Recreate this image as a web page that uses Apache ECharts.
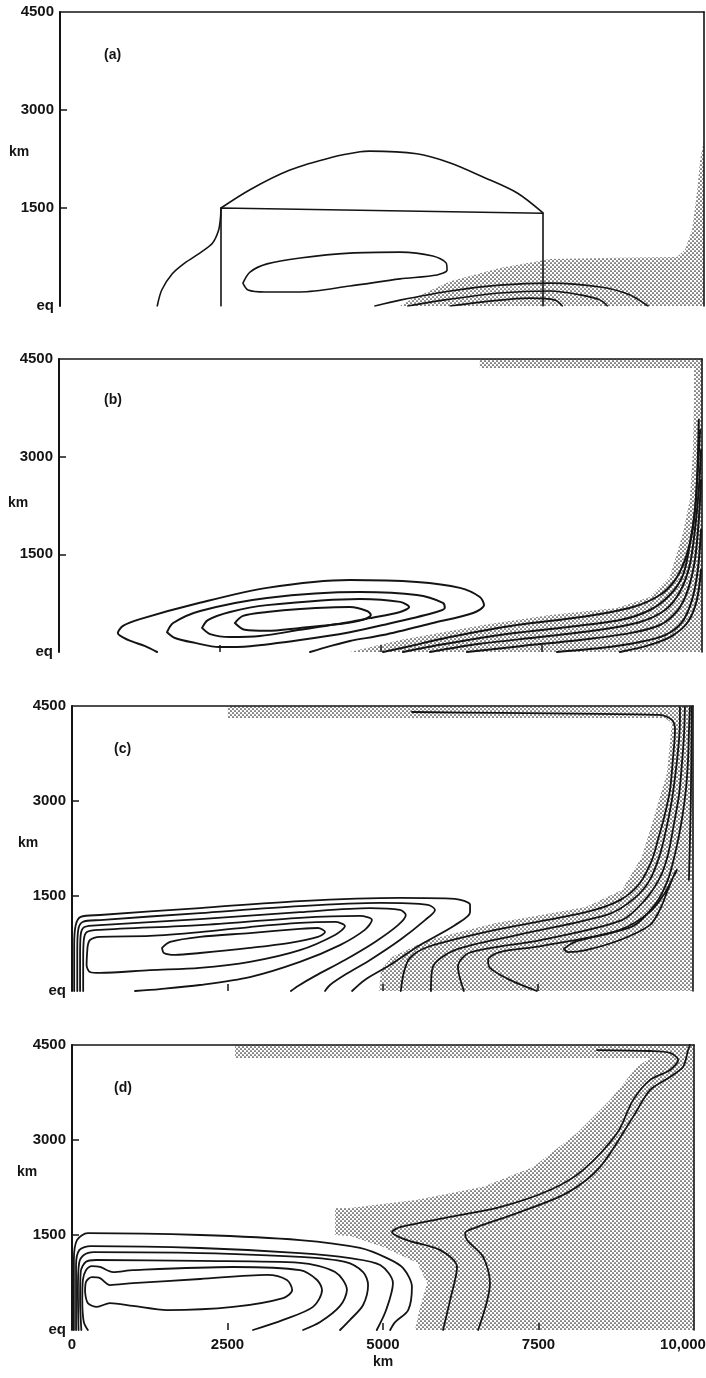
<!DOCTYPE html>
<html>
<head>
<meta charset="utf-8">
<script src="https://cdn.jsdelivr.net/npm/echarts@6/dist/echarts.min.js"></script>
<style>
  html, body { margin: 0; padding: 0; background: #ffffff; }
  #chart { width: 706px; height: 1378px; }
</style>
</head>
<body>
<div id="chart"></div>
<script>
// ---------- axes (km) ----------
const xTickValues = [2500, 5000, 7500];
const yTickValues = [1500, 3000];
const xTickLabels = { 0: '0', 2500: '2500', 5000: '5000', 7500: '7500', 10000: '10,000' };
const yTickLabels = { 0: 'eq', 1500: '1500', 3000: '3000', 4500: '4500' };
const panelTags = ['(a)', '(b)', '(c)', '(d)'];

// ---------- (a) initial state ----------
const aBlock = [[2500, 0], [2500, 1500], [7500, 1420], [7500, 0]];
const aDome = [[2500, 1500], [2950, 1780], [3570, 2080], [4240, 2280], [4660, 2360], [4810, 2370], [5540, 2330], [6060, 2190], [6570, 1975], [7100, 1730], [7500, 1425]];
const aWestEdge = [[1510, 0], [1580, 245], [1740, 490], [1940, 660], [2170, 810], [2370, 965], [2460, 1150], [2490, 1330], [2500, 1500]];
const aLoop = [[2840, 350], [2950, 520], [3215, 645], [3730, 735], [4500, 810], [5280, 825], [5790, 765], [5995, 660], [6010, 550], [5855, 475], [5280, 415], [4500, 305], [3730, 215], [3185, 215], [2920, 245], [2840, 350]];
const aArcs = [
  [[4890, 0], [5280, 90], [6060, 230], [6830, 320], [7610, 350], [8390, 290], [8850, 170], [9130, 0]],
  [[5400, 0], [6060, 105], [6830, 200], [7610, 230], [8080, 170], [8390, 90], [8500, 0]],
  [[6060, 0], [6680, 75], [7300, 120], [7690, 90], [7800, 0]]
];
const aShade = [[5280, 0], [5435, 90], [6060, 380], [6830, 580], [7350, 675], [7610, 720], [8390, 735], [9580, 750], [9705, 860], [9815, 1165], [9895, 1775], [9940, 2235], [10000, 2540], [10000, 0]];

// ---------- (b) ----------
const bCell = [
  [[1525, 0], [1340, 90], [1075, 185], [915, 290], [995, 400], [1260, 505], [2190, 755], [3235, 985], [4525, 1105], [5565, 1075], [6235, 985], [6545, 845], [6610, 720], [6440, 600], [5815, 445], [5040, 260], [4525, 170], [4215, 90], [3905, 0]],
  [[1680, 305], [1775, 445], [2195, 630], [3235, 830], [4680, 920], [5565, 875], [5970, 755], [6000, 675], [5815, 600], [5040, 415], [4525, 305], [3750, 185], [2970, 90], [2490, 75], [2115, 140], [1805, 215], [1680, 305]],
  [[2225, 370], [2315, 490], [2660, 615], [3235, 720], [4680, 815], [5305, 770], [5445, 690], [5305, 615], [4835, 520], [4525, 460], [3750, 340], [3125, 245], [2660, 230], [2350, 275], [2225, 370]],
  [[2735, 445], [2860, 555], [3235, 615], [3750, 660], [4525, 690], [4790, 630], [4850, 570], [4710, 490], [4370, 430], [3750, 370], [3235, 325], [2890, 340], [2735, 445]]
];
const bBoundary = [
  [[5040, 0], [5615, 125], [6080, 230], [7120, 415], [8150, 540], [8925, 690], [9345, 875], [9580, 1105], [9735, 1415], [9845, 1830], [9905, 2335], [9935, 2950], [9950, 3565]],
  [[5350, 0], [5925, 110], [6860, 260], [7790, 370], [8725, 490], [9190, 645], [9500, 875], [9705, 1185], [9810, 1645], [9890, 2180], [9935, 2795], [9970, 3410]],
  [[5770, 0], [6545, 125], [7480, 230], [8415, 340], [9035, 460], [9425, 645], [9655, 920], [9810, 1335], [9890, 1875], [9950, 2490], [9985, 3100]],
  [[6345, 0], [7170, 90], [8100, 185], [8880, 290], [9345, 415], [9625, 645], [9780, 950], [9890, 1415], [9950, 2030], [9985, 2640]],
  [[7745, 0], [8415, 60], [9035, 155], [9425, 260], [9690, 460], [9845, 800], [9935, 1260], [9985, 1875]],
  [[8725, 0], [9190, 110], [9530, 245], [9780, 460], [9920, 800], [9985, 1260]]
];
const bShade = [[6545, 4500], [10000, 4500], [10000, 0], [4525, 0], [5305, 185], [6595, 415], [7635, 570], [8675, 675], [9190, 845], [9500, 1150], [9705, 1830], [9810, 2335], [9860, 3105], [9875, 3870], [9875, 4360], [6545, 4360]];

// ---------- (c) ----------
const cCell = [
  [[1450, 680], [1580, 775], [2060, 855], [2865, 915], [3670, 980], [3960, 995], [4075, 930], [3960, 855], [3510, 760], [2865, 680], [2060, 600], [1660, 570], [1480, 600], [1450, 680]],
  [[250, 695], [290, 805], [450, 855], [1255, 870], [2060, 930], [2865, 1010], [3670, 1075], [4235, 1090], [4395, 1025], [4235, 885], [3670, 645], [2865, 460], [2060, 365], [1255, 330], [450, 285], [290, 300], [235, 410], [250, 695]],
  [[180, 0], [180, 490], [190, 805], [240, 930], [450, 965], [2060, 1040], [3670, 1155], [4635, 1185], [4830, 1120], [4715, 965], [4315, 725], [3670, 460], [2865, 220], [2060, 95], [1415, 30], [1015, 0]],
  [[130, 0], [130, 570], [140, 885], [200, 1010], [450, 1040], [2060, 1135], [3670, 1245], [4800, 1310], [5280, 1280], [5375, 1200], [5250, 1040], [4880, 775], [4395, 490], [3910, 235], [3640, 80], [3525, 0]],
  [[85, 0], [85, 645], [100, 965], [170, 1090], [450, 1120], [2060, 1230], [3670, 1340], [4960, 1390], [5730, 1360], [5845, 1280], [5685, 1120], [5280, 805], [4800, 490], [4395, 255], [4155, 95], [4075, 0]],
  [[35, 0], [35, 725], [60, 1040], [140, 1170], [450, 1200], [2060, 1310], [3670, 1420], [5280, 1470], [6165, 1455], [6410, 1360], [6410, 1245], [6165, 1040], [5605, 725], [5120, 410], [4715, 175], [4510, 0]]
];
const cBoundary = [
  [[5295, 0], [5345, 300], [5440, 520], [5730, 695], [6825, 965], [8275, 1245], [8825, 1435], [9145, 1705], [9340, 2070], [9435, 2385], [9545, 2780], [9630, 3175], [9675, 3645], [9710, 4120], [9660, 4280], [9465, 4360], [8500, 4375], [6890, 4390], [5475, 4405]],
  [[5780, 0], [5810, 380], [6165, 645], [7180, 885], [8645, 1215], [9065, 1470], [9305, 1755], [9465, 2145], [9565, 2540], [9660, 3015], [9725, 3490], [9775, 3965], [9790, 4280], [9790, 4480]],
  [[6310, 0], [6215, 380], [6390, 600], [7550, 805], [8855, 1120], [9225, 1435], [9465, 1785], [9595, 2145], [9690, 2620], [9775, 3095], [9820, 3570], [9855, 4040], [9870, 4480]],
  [[7485, 0], [7050, 175], [6730, 365], [6700, 490], [6890, 615], [7550, 710], [9000, 1010], [9385, 1360], [9595, 1755], [9725, 2225], [9820, 2700], [9885, 3175], [9920, 3645], [9935, 4120], [9950, 4480]],
  [[7920, 665], [8100, 775], [8825, 965], [9305, 1245], [9545, 1545], [9675, 1785], [9740, 1910], [9710, 1865], [9595, 1595], [9465, 1280], [9305, 1040], [8825, 805], [8275, 645], [7985, 615], [7920, 665]],
  [[9980, 4485], [9965, 3015], [9935, 1755]]
];
const cShade = [[2510, 4500], [10000, 4500], [10000, 0], [4945, 0], [4975, 330], [5150, 535], [5730, 805], [6825, 1075], [8275, 1325], [8855, 1595], [9175, 2115], [9260, 2385], [9420, 2905], [9580, 3440], [9660, 4230], [9545, 4310], [2510, 4310]];

// ---------- (d) ----------
const dCell = [
  [[210, 600], [225, 760], [320, 835], [450, 820], [610, 710], [980, 740], [2060, 805], [3135, 870], [3455, 790], [3540, 630], [3395, 505], [2590, 365], [1530, 315], [980, 380], [610, 425], [400, 365], [255, 425], [210, 600]],
  [[255, 0], [190, 125], [165, 475], [175, 790], [225, 945], [320, 1010], [450, 995], [660, 915], [980, 945], [2590, 995], [3665, 945], [3940, 790], [4020, 630], [3875, 365], [3395, 160], [2910, 0]],
  [[150, 0], [130, 475], [140, 915], [220, 1075], [390, 1105], [2060, 1090], [3665, 1060], [4230, 915], [4420, 630], [4310, 380], [3990, 125], [3715, 0]],
  [[105, 0], [95, 630], [115, 1060], [190, 1185], [350, 1230], [2060, 1215], [3665, 1155], [4390, 1075], [4680, 915], [4760, 710], [4680, 395], [4470, 160], [4310, 0]],
  [[65, 0], [65, 1025], [120, 1265], [300, 1325], [2060, 1295], [3665, 1215], [4470, 1135], [4955, 1025], [5160, 740], [5050, 315], [4900, 0]],
  [[30, 0], [30, 1105], [80, 1420], [255, 1530], [2060, 1500], [3665, 1420], [4630, 1295], [5065, 1135], [5320, 980], [5465, 680], [5405, 315], [5195, 125], [5115, 0]]
];
const dBoundary = [
  [[5965, 0], [6080, 475], [6190, 995], [5915, 1265], [5385, 1420], [5145, 1545], [5275, 1625], [6080, 1785], [6880, 1940], [7685, 2210], [8215, 2525], [8765, 3110], [9020, 3630], [9295, 3950], [9615, 4105], [9745, 4265], [9615, 4375], [9295, 4405], [8440, 4420]],
  [[6530, 0], [6720, 740], [6610, 1155], [6350, 1420], [6320, 1530], [6510, 1625], [7155, 1845], [7960, 2165], [8490, 2575], [9020, 3365], [9295, 3790], [9615, 3995], [9825, 4155], [9905, 4420], [9935, 4500]]
];
const dShade = [[2620, 4500], [10000, 4500], [10000, 0], [5515, 0], [5595, 365], [5710, 740], [5550, 1060], [5000, 1310], [4470, 1485], [4230, 1500], [4230, 1925], [4470, 1925], [5550, 2055], [6610, 2260], [7415, 2575], [8120, 3110], [8650, 3630], [9085, 4155], [9295, 4295], [2620, 4295]];

// ---------- drawing ----------
const INK = '#141414';
const FONT = 'Liberation Sans, Arial, Helvetica, sans-serif';

// fine halftone dot screen used for the shaded regions
function makeDotScreen() {
  const c = document.createElement('canvas');
  c.width = 4; c.height = 4;
  const g = c.getContext('2d');
  g.fillStyle = '#262626';
  [[1, 1], [3, 3], [-1, -1], [5, 5], [-1, 3], [3, -1]].forEach(function (p) {
    g.beginPath();
    g.arc(p[0], p[1], 0.85, 0, Math.PI * 2);
    g.fill();
  });
  return c;
}
const dotScreen = { image: makeDotScreen(), repeat: 'repeat' };

const layout = [
  { left: 60, top: 12, width: 644, height: 294, tag: [104, 48], km: [9, 145], lw: 1.6 },
  { left: 59, top: 359, width: 643, height: 293, tag: [104, 393], km: [8, 496], lw: 2.0 },
  { left: 72, top: 706, width: 621, height: 285, tag: [114, 742], km: [18, 836], lw: 1.8 },
  { left: 72, top: 1045, width: 622, height: 285, tag: [114, 1081], km: [17, 1165], lw: 1.8 }
];

const grids = [], xAxes = [], yAxes = [], series = [], graphics = [];

layout.forEach(function (p, i) {
  grids.push({ left: p.left, top: p.top, width: p.width, height: p.height, containLabel: false, outerBoundsMode: 'none' });
  xAxes.push({
    gridIndex: i, type: 'value', min: 0, max: 10000, interval: 2500, position: 'bottom',
    axisLine: { show: false },
    splitLine: { show: false },
    axisTick: { show: i > 0, inside: true, length: 7, customValues: xTickValues, lineStyle: { color: INK, width: 1.5 } },
    axisLabel: {
      show: i === 3, margin: 7, color: INK, fontSize: 15, fontWeight: 'bold', fontFamily: FONT,
      formatter: function (v) { return v === 10000 ? '{e|' + xTickLabels[v] + '}' : xTickLabels[v]; },
      rich: { e: { padding: [0, 22, 0, 0], fontSize: 15, fontWeight: 'bold', fontFamily: FONT, color: INK } }
    }
  });
  xAxes.push({
    gridIndex: i, type: 'value', min: 0, max: 10000, position: 'top',
    axisLine: { show: true, onZero: false, lineStyle: { color: INK, width: 1.6 } },
    axisTick: { show: false }, axisLabel: { show: false }, splitLine: { show: false }
  });
  yAxes.push({
    gridIndex: i, type: 'value', min: 0, max: 4500, interval: 1500, position: 'left',
    axisLine: { show: true, onZero: false, lineStyle: { color: INK, width: 2 } },
    axisTick: { show: true, inside: true, length: 7, customValues: yTickValues, lineStyle: { color: INK, width: 1.5 } },
    axisLabel: { margin: 6, color: INK, fontSize: 15, fontWeight: 'bold', fontFamily: FONT, formatter: function (v) { return yTickLabels[v]; } },
    splitLine: { show: false }
  });
  yAxes.push({
    gridIndex: i, type: 'value', min: 0, max: 4500, position: 'right',
    axisLine: { show: true, onZero: false, lineStyle: { color: INK, width: 1.6 } },
    axisTick: { show: false }, axisLabel: { show: false }, splitLine: { show: false }
  });
  graphics.push({ type: 'text', left: p.tag[0], top: p.tag[1], silent: true,
    style: { text: panelTags[i], font: 'bold 14px ' + FONT, fill: INK } });
  graphics.push({ type: 'text', left: p.km[0], top: p.km[1], silent: true,
    style: { text: 'km', font: 'bold 14px ' + FONT, fill: INK } });
});
graphics.push({ type: 'text', left: 373, top: 1355, silent: true,
  style: { text: 'km', font: 'bold 14px ' + FONT, fill: INK } });

function shade(gi, pts) {
  return {
    type: 'custom', xAxisIndex: gi * 2, yAxisIndex: gi * 2, z: 1, silent: true, clip: true,
    data: pts,
    renderItem: function (params, api) {
      if (params.dataIndex !== 0) return null;
      return {
        type: 'polygon',
        shape: { points: pts.map(function (q) { return api.coord(q); }) },
        style: { fill: dotScreen, stroke: null }
      };
    }
  };
}
function curve(gi, pts, smooth) {
  return {
    type: 'line', xAxisIndex: gi * 2, yAxisIndex: gi * 2, z: 3, silent: true,
    data: pts, symbol: 'none', showSymbol: false,
    smooth: smooth === undefined ? 0.3 : smooth,
    lineStyle: { color: INK, width: layout[gi].lw, cap: 'round', join: 'round' }
  };
}

// (a)
series.push(shade(0, aShade));
series.push(curve(0, aBlock, false));
series.push(curve(0, aDome));
series.push(curve(0, aWestEdge));
series.push(curve(0, aLoop));
aArcs.forEach(function (c) { series.push(curve(0, c)); });
// (b)
series.push(shade(1, bShade));
bCell.concat(bBoundary).forEach(function (c) { series.push(curve(1, c)); });
// (c)
series.push(shade(2, cShade));
cCell.concat(cBoundary).forEach(function (c) { series.push(curve(2, c)); });
// (d)
series.push(shade(3, dShade));
dCell.concat(dBoundary).forEach(function (c) { series.push(curve(3, c)); });

const chart = echarts.init(document.getElementById('chart'), null, { renderer: 'canvas' });
chart.setOption({
  animation: false,
  backgroundColor: '#ffffff',
  grid: grids,
  xAxis: xAxes,
  yAxis: yAxes,
  series: series,
  graphic: graphics
});
</script>
</body>
</html>
